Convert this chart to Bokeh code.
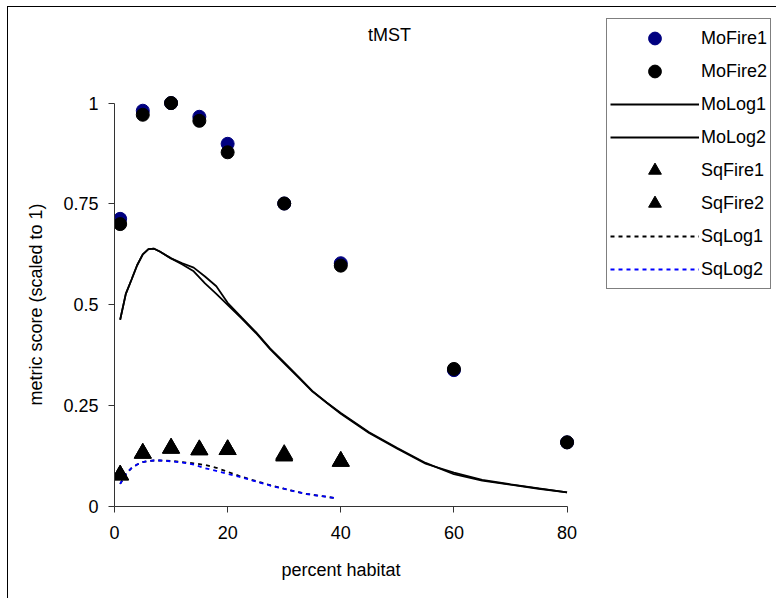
from bokeh.plotting import figure
from bokeh.models import Legend, LegendItem, Range1d, FixedTicker, Label, Title
from bokeh.embed import file_html
from bokeh.resources import INLINE

# ---- data ----
fire_x = [1, 5, 10, 15, 20, 30, 40, 60, 80]
mofire1 = [0.713, 0.981, 1.0, 0.966, 0.899, 0.751, 0.603, 0.338, 0.159]
mofire2 = [0.700, 0.971, 1.0, 0.956, 0.878, 0.751, 0.597, 0.341, 0.159]

molog_x = [1, 2, 3, 4, 5, 6, 7, 8, 10, 12, 14, 16, 18, 20, 22.5, 25, 27.5, 30,
           32.5, 35, 37.5, 40, 45, 50, 55, 60, 65, 70, 75, 80]
molog1 = [0.463, 0.527, 0.562, 0.598, 0.625, 0.638, 0.639, 0.632, 0.615, 0.603,
          0.592, 0.570, 0.546, 0.505, 0.468, 0.432, 0.392, 0.357, 0.322, 0.286,
          0.258, 0.232, 0.184, 0.145, 0.108, 0.080, 0.064, 0.054, 0.044, 0.035]
molog2 = [0.463, 0.527, 0.562, 0.598, 0.625, 0.638, 0.639, 0.632, 0.615, 0.600,
          0.583, 0.553, 0.527, 0.500, 0.466, 0.430, 0.390, 0.355, 0.320, 0.285,
          0.257, 0.230, 0.182, 0.143, 0.106, 0.084, 0.066, 0.055, 0.045, 0.035]

sqfire_x = [1, 5, 10, 15, 20, 30, 40]
sqfire1 = [0.078, 0.132, 0.145, 0.141, 0.141, 0.129, 0.112]
sqfire2 = [0.078, 0.132, 0.144, 0.140, 0.141, 0.125, 0.112]

sqlog_x = [1, 2, 3, 4, 5, 6, 7, 8, 10, 12, 14, 16, 18, 20, 22, 24, 26, 28, 30,
           32, 34, 36, 38, 39]
sqlog1 = [0.056, 0.080, 0.095, 0.104, 0.110, 0.113, 0.114, 0.114, 0.113, 0.110,
          0.107, 0.103, 0.096, 0.086, 0.076, 0.067, 0.059, 0.051, 0.044, 0.037,
          0.031, 0.027, 0.023, 0.021]
sqlog2 = [0.056, 0.080, 0.095, 0.104, 0.110, 0.113, 0.114, 0.114, 0.112, 0.109,
          0.104, 0.095, 0.088, 0.081, 0.074, 0.066, 0.058, 0.050, 0.044, 0.037,
          0.031, 0.027, 0.023, 0.021]

x_ticks = [0, 20, 40, 60, 80]
y_ticks = [0, 0.25, 0.5, 0.75, 1]
y_tick_labels = {0: "0", 0.25: "0.25", 0.5: "0.5", 0.75: "0.75", 1: "1"}

FONT = "Liberation Sans"

# frame spans 0..117 x 0..1.222 so that legend and title stay inside it;
# axis lines are bounded to the data extents (0..80, 0..1)
p = figure(width=769, height=592, output_backend="svg", toolbar_location=None,
           x_range=Range1d(0, 117.2), y_range=Range1d(0, 1.222),
           min_border_left=105, min_border_right=0, min_border_top=6,
           min_border_bottom=93, margin=(6, 0, 0, 7),
           styles={"border-top": "1px solid #000", "border-left": "1px solid #000"})
p.outline_line_color = None
p.xgrid.visible = False
p.ygrid.visible = False

# axes
for ax in (p.xaxis[0], p.yaxis[0]):
    ax.axis_line_color = "#333333"
    ax.major_tick_line_color = "#333333"
    ax.major_tick_out = 6
    ax.major_tick_in = 0
    ax.minor_tick_out = 0
    ax.minor_tick_in = 0
    ax.major_label_text_font = FONT
    ax.major_label_text_font_size = "18px"
    ax.major_label_text_color = "black"

p.xaxis.bounds = (0, 80)
p.yaxis.bounds = (0, 1)
p.xaxis.ticker = FixedTicker(ticks=x_ticks)
p.yaxis.ticker = FixedTicker(ticks=y_ticks)
p.yaxis.major_label_overrides = y_tick_labels
p.xaxis.major_label_standoff = 13
p.yaxis.major_label_standoff = 10

# axis titles, centred on the 0..80 and 0..1 spans of the axes
p.add_layout(Title(text="percent habitat", align="left", offset=167,
                   vertical_align="top", standoff=36, text_font=FONT,
                   text_font_size="18px", text_font_style="normal",
                   text_color="black"), "below")
p.add_layout(Title(text="metric score (scaled to 1)", align="left", offset=101,
                   vertical_align="bottom", standoff=30, text_font=FONT,
                   text_font_size="18px", text_font_style="normal",
                   text_color="black"), "left")

# chart title
p.add_layout(Label(x=275, y=472, x_units="screen", y_units="screen", text="tMST",
                   text_align="center", text_baseline="middle", text_font=FONT,
                   text_font_size="18px", text_color="black"))

# glyphs
r_ml1 = p.line(molog_x, molog1, line_color="black", line_width=1.8)
r_ml2 = p.line(molog_x, molog2, line_color="black", line_width=1.8)
r_sl1 = p.line(sqlog_x, sqlog1, line_color="black", line_width=1.8, line_dash="4 4")
r_sl2 = p.line(sqlog_x, sqlog2, line_color="#0000ff", line_width=1.8, line_dash="4 4")
r_mf1 = p.scatter(fire_x, mofire1, marker="circle", size=13, fill_color="#000080",
                  line_color="#000080")
r_mf2 = p.scatter(fire_x, mofire2, marker="circle", size=13, fill_color="black",
                  line_color="black")
r_sf1 = p.scatter(sqfire_x, sqfire1, marker="triangle", size=17, fill_color="black",
                  line_color="black")
r_sf2 = p.scatter(sqfire_x, sqfire2, marker="triangle", size=17, fill_color="black",
                  line_color="black")

legend = Legend(items=[
    LegendItem(label="MoFire1", renderers=[r_mf1]),
    LegendItem(label="MoFire2", renderers=[r_mf2]),
    LegendItem(label="MoLog1", renderers=[r_ml1]),
    LegendItem(label="MoLog2", renderers=[r_ml2]),
    LegendItem(label="SqFire1", renderers=[r_sf1]),
    LegendItem(label="SqFire2", renderers=[r_sf2]),
    LegendItem(label="SqLog1", renderers=[r_sl1]),
    LegendItem(label="SqLog2", renderers=[r_sl2]),
], location=(492, 217))
legend.border_line_color = "black"
legend.border_line_width = 1
legend.background_fill_color = "white"
legend.background_fill_alpha = 1
legend.label_text_font = FONT
legend.label_text_font_size = "18px"
legend.label_text_color = "black"
legend.glyph_width = 89
legend.glyph_height = 32
legend.label_height = 32
legend.label_standoff = 2
legend.spacing = 1
legend.padding = 3
legend.margin = 0
p.add_layout(legend, "center")

open("out.html", "w").write(file_html(p, INLINE))
